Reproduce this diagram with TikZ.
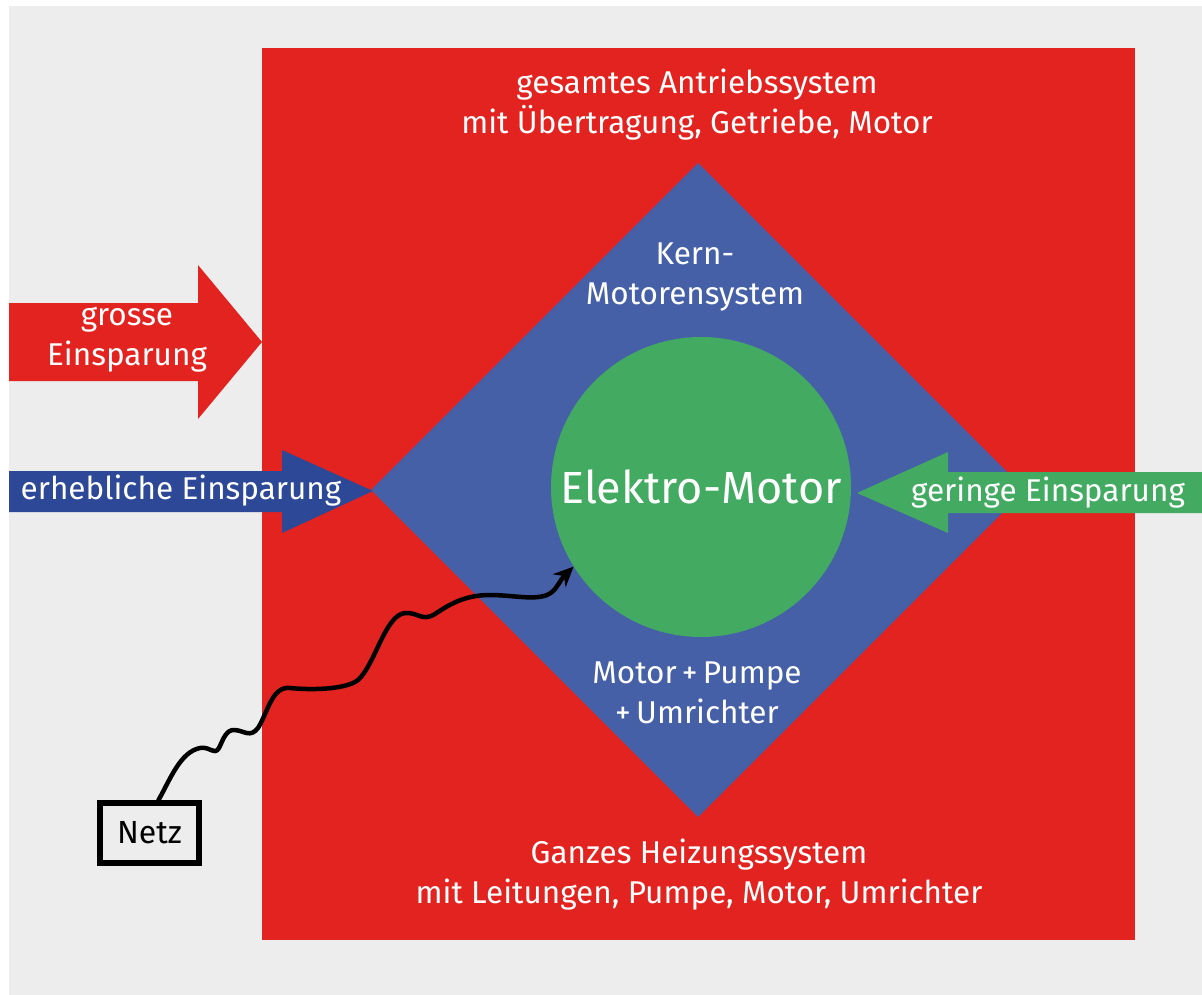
\documentclass[tikz,border=0pt]{standalone}
\usepackage{fontspec}
\setmainfont{Fira Sans}
\usetikzlibrary{arrows.meta}
\definecolor{bggray}{RGB}{237,237,237}
\definecolor{boxred}{RGB}{227,35,32}
\definecolor{diablue}{RGB}{70,96,168}
\definecolor{arrblue}{RGB}{44,72,150}
\definecolor{motgreen}{RGB}{67,170,97}
\tikzset{
  lbl/.style={text=white, align=center, inner sep=0pt, font=\fontsize{31.5}{40}\selectfont},
  wire/.style={line width=4.5pt, black, line cap=round, line join=round, -{Stealth[length=20pt,width=18pt]}},
  netzbox/.style={draw=black, line width=6pt, fill=bggray, minimum width=99pt, minimum height=60pt, inner sep=0pt, font=\fontsize{32}{34}\selectfont}
}
\begin{document}
\begin{tikzpicture}[x=1pt,y=-1pt]
\useasboundingbox (0,0) rectangle (1202,995);
\fill[white] (0,0) rectangle (1202,995);
\fill[bggray] (9,6) rectangle (1202,995);
% outer system
\fill[boxred] (262,48) rectangle (1135,940);
% red arrow
\fill[boxred] (9,303) -- (198,303) -- (198,265) -- (262,342) -- (198,419) -- (198,381) -- (9,381) -- cycle;
% diamond
\fill[diablue] (698,163) -- (1025,490) -- (698,817) -- (371,490) -- cycle;
% motor circle
\node[circle, fill=motgreen, minimum size=300pt, inner sep=0pt, text=white, font=\fontsize{45}{50}\selectfont] (motor) at (701,487) {Elektro-Motor};
% blue arrow
\fill[arrblue] (9,471) -- (282,471) -- (282,450) -- (373,491) -- (282,533) -- (282,512) -- (9,512) -- cycle;
% green arrow
\fill[motgreen] (1202,472) -- (948,472) -- (948,452) -- (857,493) -- (948,533) -- (948,513) -- (1202,513) -- cycle;
% labels
\node[lbl] (ges) at (697,105) {gesamtes Antriebssystem\\mit Übertragung, Getriebe, Motor};
\node[lbl] (kern) at (695,277) {Kern-\\Motorensystem};
\node[lbl] (mp) at (697,693) {Motor\,+\,Pumpe\\+\,Umrichter};
\node[lbl] (ganz) at (699,875) {Ganzes Heizungssystem\\mit Leitungen, Pumpe, Motor, Umrichter};
\node[lbl] (gross) at (127,340) {grosse\\Einsparung};
\node[lbl] (erheb) at (181,491) {erhebliche Einsparung};
\node[lbl] (gering) at (1048,493) {geringe Einsparung};
% Netz
\node[netzbox] (netz) at (149.5,833) {Netz};
\coordinate (wstart) at ([xshift=9pt]netz.north);
\draw[wire] (wstart) .. controls (170,780) and (180,752) .. (200,748)
  .. controls (210,746) and (214,756) .. (219,748)
  .. controls (223,740) and (226,729) .. (235,730)
  .. controls (245,731) and (250,738) .. (258,728)
  .. controls (268,712) and (272,686) .. (290,688)
  .. controls (310,690) and (345,690) .. (358,680)
  .. controls (375,665) and (385,615) .. (405,613)
  .. controls (418,612) and (422,622) .. (435,614)
  .. controls (450,604) and (465,595) .. (490,595)
  .. controls (515,595) and (540,602) .. (552,592)
  .. controls (558,587) and (560,580) .. (motor.212);
\end{tikzpicture}
\end{document}
